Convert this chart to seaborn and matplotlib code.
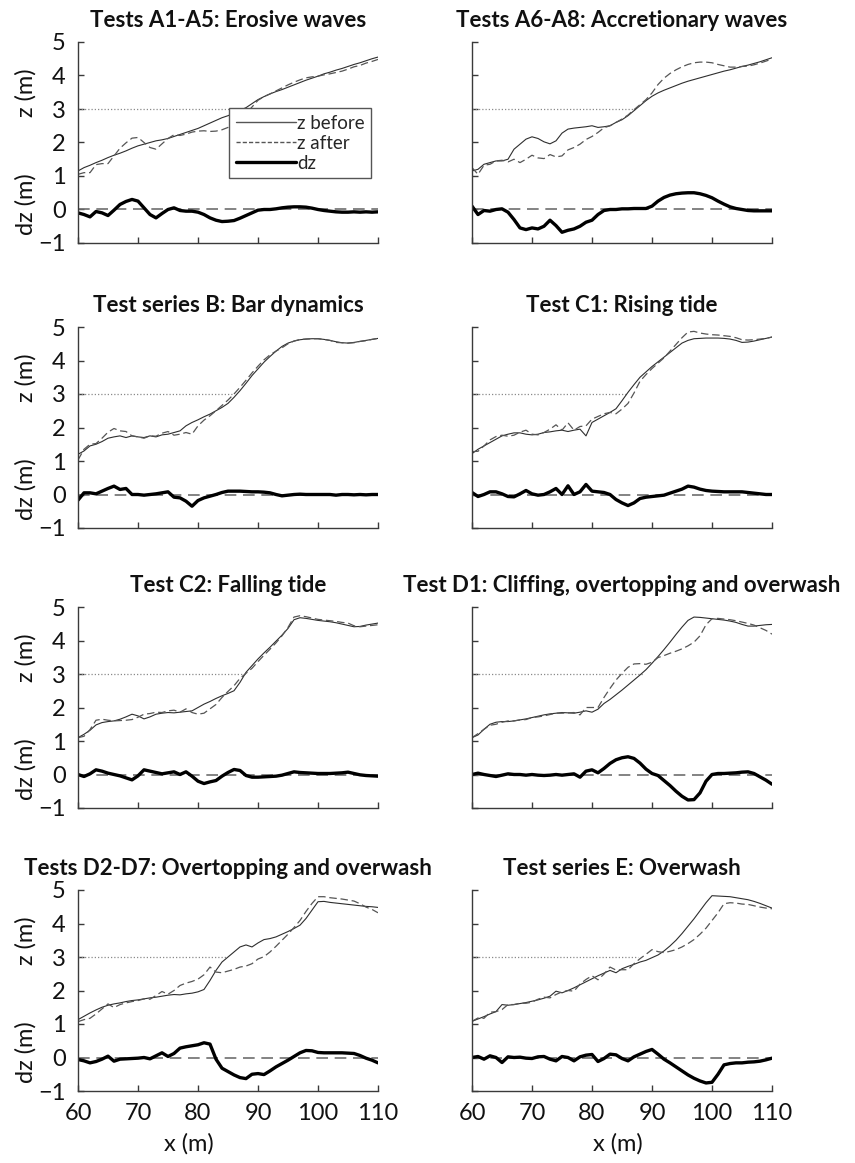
import numpy as np
import pandas as pd
import matplotlib
matplotlib.use("Agg")
import matplotlib.pyplot as plt
import matplotlib.transforms as mtransforms
from matplotlib.lines import Line2D
import seaborn as sns

# Cross-shore sample positions (m)
x_m = np.arange(60, 111)

titles = [
    "Tests A1-A5: Erosive waves",
    "Tests A6-A8: Accretionary waves",
    "Test series B: Bar dynamics",
    "Test C1: Rising tide",
    "Test C2: Falling tide",
    "Test D1: Cliffing, overtopping and overwash",
    "Tests D2-D7: Overtopping and overwash",
    "Test series E: Overwash",
]

# Bed elevation before each test (m)
zb_A1A5 = [1.15, 1.25, 1.32, 1.40, 1.47, 1.55, 1.62, 1.68, 1.75, 1.83, 1.90,
           1.95, 2.00, 2.05, 2.08, 2.12, 2.18, 2.24, 2.30, 2.36, 2.42,
           2.50, 2.58, 2.66, 2.74, 2.80, 2.88, 2.96, 3.04, 3.16, 3.28,
           3.37, 3.45, 3.52, 3.58, 3.65, 3.72, 3.79, 3.86, 3.92, 3.98,
           4.05, 4.10, 4.16, 4.21, 4.27, 4.33, 4.38, 4.44, 4.50, 4.55]
zb_A6A8 = [1.15, 1.20, 1.35, 1.40, 1.45, 1.45, 1.50, 1.80, 1.95, 2.10, 2.17,
           2.12, 2.02, 1.96, 2.05, 2.28, 2.40, 2.43, 2.45, 2.47, 2.50,
           2.45, 2.47, 2.50, 2.60, 2.68, 2.80, 2.95, 3.10, 3.25, 3.38,
           3.48, 3.56, 3.63, 3.70, 3.77, 3.83, 3.88, 3.93, 3.98, 4.03,
           4.08, 4.13, 4.17, 4.22, 4.27, 4.31, 4.36, 4.41, 4.47, 4.53]
zb_B = [1.20, 1.30, 1.45, 1.50, 1.58, 1.68, 1.72, 1.75, 1.70, 1.75, 1.72,
        1.70, 1.75, 1.72, 1.78, 1.80, 1.85, 1.90, 2.05, 2.15, 2.23,
        2.32, 2.40, 2.50, 2.60, 2.72, 2.90, 3.10, 3.32, 3.55, 3.75,
        3.95, 4.12, 4.28, 4.42, 4.52, 4.58, 4.62, 4.64, 4.65, 4.65,
        4.63, 4.60, 4.56, 4.53, 4.52, 4.54, 4.57, 4.60, 4.63, 4.66]
zb_C1 = [1.22, 1.35, 1.45, 1.55, 1.65, 1.75, 1.80, 1.84, 1.84, 1.80, 1.78,
         1.80, 1.85, 1.87, 1.90, 1.92, 1.88, 1.92, 1.95, 1.75, 2.15,
         2.25, 2.35, 2.45, 2.56, 2.80, 3.05, 3.28, 3.50, 3.66, 3.82,
         3.96, 4.10, 4.24, 4.38, 4.52, 4.60, 4.65, 4.66, 4.67, 4.67,
         4.67, 4.66, 4.64, 4.60, 4.54, 4.55, 4.58, 4.62, 4.66, 4.70]
zb_C2 = [1.10, 1.20, 1.32, 1.48, 1.55, 1.58, 1.60, 1.65, 1.72, 1.80, 1.75,
         1.66, 1.72, 1.80, 1.83, 1.85, 1.84, 1.86, 1.88, 1.90, 2.00,
         2.10, 2.18, 2.27, 2.35, 2.42, 2.50, 2.75, 3.05, 3.25, 3.45,
         3.63, 3.80, 3.98, 4.16, 4.36, 4.62, 4.68, 4.66, 4.63, 4.60,
         4.58, 4.56, 4.53, 4.49, 4.45, 4.41, 4.42, 4.46, 4.49, 4.52]
zb_D1 = [1.10, 1.18, 1.35, 1.50, 1.56, 1.58, 1.58, 1.60, 1.63, 1.66, 1.70,
         1.74, 1.78, 1.81, 1.83, 1.85, 1.84, 1.83, 1.86, 1.90, 1.86,
         1.95, 2.12, 2.24, 2.38, 2.52, 2.67, 2.82, 2.97, 3.13, 3.32,
         3.52, 3.73, 3.95, 4.18, 4.40, 4.60, 4.70, 4.69, 4.67, 4.65,
         4.63, 4.61, 4.58, 4.54, 4.48, 4.43, 4.43, 4.45, 4.47, 4.48]
zb_D2D7 = [1.13, 1.23, 1.33, 1.42, 1.50, 1.56, 1.60, 1.63, 1.67, 1.70, 1.72,
           1.75, 1.78, 1.80, 1.83, 1.86, 1.88, 1.87, 1.90, 1.92, 1.96,
           2.03, 2.30, 2.60, 2.85, 3.00, 3.15, 3.30, 3.36, 3.30, 3.42,
           3.52, 3.55, 3.60, 3.68, 3.76, 3.85, 3.95, 4.15, 4.40, 4.65,
           4.66, 4.63, 4.61, 4.59, 4.57, 4.55, 4.53, 4.51, 4.50, 4.48]
zb_E = [1.08, 1.15, 1.22, 1.30, 1.37, 1.58, 1.56, 1.58, 1.61, 1.64, 1.68,
        1.72, 1.77, 1.83, 1.98, 1.93, 2.00, 2.08, 2.17, 2.26, 2.35,
        2.44, 2.52, 2.60, 2.53, 2.65, 2.72, 2.78, 2.85, 2.90, 2.98,
        3.06, 3.18, 3.33, 3.50, 3.70, 3.92, 4.14, 4.38, 4.62, 4.83,
        4.82, 4.81, 4.80, 4.77, 4.74, 4.71, 4.66, 4.60, 4.53, 4.46]

# Bed level change after each test (m)
dz_A1A5 = [-0.10, -0.15, -0.22, -0.06, -0.10, -0.18, -0.02, 0.15, 0.24, 0.30, 0.25,
           0.05, -0.15, -0.25, -0.12, 0.00, 0.05, -0.03, -0.05, -0.05, -0.08,
           -0.15, -0.25, -0.32, -0.36, -0.35, -0.33, -0.26, -0.18, -0.10, -0.02,
           0.00, 0.00, 0.02, 0.05, 0.07, 0.08, 0.08, 0.07, 0.04, 0.00,
           -0.03, -0.05, -0.07, -0.08, -0.08, -0.07, -0.08, -0.07, -0.08, -0.07]
dz_A6A8 = [0.10, -0.15, -0.03, -0.05, 0.00, 0.02, -0.08, -0.30, -0.55, -0.60, -0.55,
           -0.58, -0.50, -0.32, -0.48, -0.68, -0.62, -0.58, -0.50, -0.38, -0.32,
           -0.15, -0.03, 0.00, 0.00, 0.02, 0.02, 0.03, 0.03, 0.03, 0.10,
           0.25, 0.36, 0.43, 0.47, 0.49, 0.50, 0.50, 0.47, 0.42, 0.35,
           0.25, 0.16, 0.08, 0.03, 0.00, -0.03, -0.04, -0.04, -0.04, -0.04]
dz_B = [-0.17, 0.05, 0.05, 0.02, 0.10, 0.18, 0.25, 0.15, 0.18, 0.00, 0.00,
        -0.02, 0.00, 0.02, 0.05, 0.08, -0.08, -0.10, -0.20, -0.35, -0.18,
        -0.10, -0.05, 0.00, 0.06, 0.10, 0.10, 0.10, 0.09, 0.08, 0.08,
        0.07, 0.05, 0.00, -0.04, -0.02, 0.00, 0.01, 0.00, 0.00, 0.00,
        0.00, 0.00, -0.02, 0.00, 0.00, -0.01, 0.00, -0.01, 0.00, 0.00]
dz_C1 = [0.06, -0.06, 0.00, 0.08, 0.08, 0.02, -0.06, -0.07, 0.02, 0.12, 0.02,
         -0.02, 0.00, 0.08, 0.18, 0.00, 0.26, 0.00, 0.08, 0.30, 0.10,
         0.08, 0.06, 0.00, -0.15, -0.25, -0.33, -0.25, -0.12, -0.08, -0.06,
         -0.04, -0.02, 0.04, 0.10, 0.16, 0.25, 0.22, 0.16, 0.12, 0.10,
         0.09, 0.08, 0.08, 0.08, 0.08, 0.06, 0.04, 0.02, 0.00, 0.00]
dz_C2 = [0.00, -0.06, 0.02, 0.14, 0.10, 0.04, 0.00, -0.04, -0.10, -0.16, -0.04,
         0.14, 0.10, 0.06, 0.02, 0.05, 0.08, 0.00, 0.08, -0.05, -0.20,
         -0.27, -0.22, -0.18, -0.05, 0.06, 0.15, 0.12, -0.03, -0.08, -0.08,
         -0.07, -0.06, -0.05, -0.02, 0.03, 0.08, 0.06, 0.05, 0.04, 0.03,
         0.03, 0.03, 0.04, 0.05, 0.07, 0.03, -0.01, -0.03, -0.04, -0.05]
dz_D1 = [0.00, 0.04, 0.00, -0.03, -0.06, -0.02, 0.02, 0.00, 0.00, -0.02, 0.00,
         -0.02, -0.03, -0.02, 0.00, -0.02, 0.00, 0.02, -0.08, 0.10, 0.14,
         0.05, 0.18, 0.33, 0.44, 0.50, 0.53, 0.48, 0.34, 0.16, 0.03,
         -0.03, -0.18, -0.33, -0.50, -0.65, -0.76, -0.75, -0.55, -0.20, 0.00,
         0.03, 0.03, 0.04, 0.05, 0.07, 0.08, 0.03, -0.07, -0.17, -0.29]
dz_D2D7 = [-0.06, -0.10, -0.16, -0.12, -0.05, 0.04, -0.11, -0.05, -0.04, -0.03, -0.02,
           0.00, -0.04, 0.05, 0.14, 0.03, 0.12, 0.28, 0.32, 0.35, 0.38,
           0.44, 0.40, -0.05, -0.32, -0.42, -0.52, -0.60, -0.63, -0.50, -0.48,
           -0.51, -0.40, -0.28, -0.18, -0.08, 0.03, 0.14, 0.21, 0.20, 0.15,
           0.14, 0.14, 0.14, 0.14, 0.13, 0.12, 0.06, -0.02, -0.08, -0.16]
dz_E = [0.00, 0.03, -0.05, 0.05, 0.00, -0.15, 0.02, 0.00, 0.01, -0.02, -0.03,
        0.02, 0.03, -0.05, -0.10, 0.03, 0.00, -0.10, 0.02, 0.07, 0.09,
        -0.12, -0.03, 0.10, 0.08, -0.03, -0.10, 0.02, 0.10, 0.18, 0.24,
        0.10, -0.05, -0.16, -0.28, -0.40, -0.52, -0.62, -0.70, -0.76, -0.74,
        -0.50, -0.22, -0.18, -0.16, -0.16, -0.14, -0.13, -0.11, -0.07, -0.02]

# Landward reach of the still water level (z = 3 m) in each test (m)
swl_reach = [88.3, 87.2, 85.8, 86.0, 88.0, 88.6, 84.9, 87.7]
swl_level = 3.0

z_before = [zb_A1A5, zb_A6A8, zb_B, zb_C1, zb_C2, zb_D1, zb_D2D7, zb_E]
dz_all = [dz_A1A5, dz_A6A8, dz_B, dz_C1, dz_C2, dz_D1, dz_D2D7, dz_E]

sns.set_theme(style="ticks")
plt.rcParams["font.family"] = ["Lato", "DejaVu Sans"]
plt.rcParams["axes.linewidth"] = 1.0

W, H = 855, 1163
fig = plt.figure(figsize=(W / 100, H / 100), dpi=100)

col_left = [78, 472]
col_width = 300
row_top = [42, 327, 607, 890]
row_height = 201

ink = "#3a3a3a"
tick_fs = 17

for i in range(8):
    r, c = divmod(i, 2)
    rect = [col_left[c] / W, 1 - (row_top[r] + row_height) / H,
            col_width / W, row_height / H]
    ax = fig.add_axes(rect)

    df = pd.DataFrame({"x": x_m,
                       "before": z_before[i],
                       "dz": dz_all[i]})
    df["after"] = df["before"] + df["dz"]

    # zero reference for the change curve
    zero = pd.DataFrame({"x": [60, 110], "y": [0.0, 0.0]})
    sns.lineplot(data=zero, x="x", y="y", ax=ax, color="#6e6e6e", lw=1.2,
                 linestyle=(0, (7, 4)))
    # still water level
    swl = pd.DataFrame({"x": [60, swl_reach[i]], "y": [swl_level, swl_level]})
    sns.lineplot(data=swl, x="x", y="y", ax=ax, color="#8a8a8a", lw=0.9,
                 linestyle=(0, (1, 1.6)))

    sns.lineplot(data=df, x="x", y="before", ax=ax, color="#2e2e2e", lw=0.8,
                 estimator=None, sort=False)
    sns.lineplot(data=df, x="x", y="after", ax=ax, color="#555555", lw=0.9,
                 estimator=None, sort=False, linestyle=(0, (6, 3)))
    sns.lineplot(data=df, x="x", y="dz", ax=ax, color="black", lw=2.4,
                 estimator=None, sort=False)

    ax.set_xlim(60, 110)
    ax.set_ylim(-1, 5)
    ax.set_xticks(np.arange(60, 111, 10))
    ax.set_yticks(np.arange(-1, 6, 1))
    ax.tick_params(direction="in", length=4, width=1, color=ink,
                   labelsize=tick_fs, pad=9, labelcolor="#111111")
    for s in ("left", "bottom"):
        ax.spines[s].set_color(ink)
    sns.despine(ax=ax)

    ax.set_xlabel("")
    ax.set_ylabel("")
    if r < 3:
        ax.tick_params(axis="x", labelbottom=False)
    else:
        ax.set_xlabel("x (m)", fontsize=tick_fs, color="#111111")
        ax.xaxis.set_label_coords(0.37 if c == 0 else 0.487, -0.21)
    if c == 1:
        ax.tick_params(axis="y", labelleft=False)
    else:
        trans = mtransforms.blended_transform_factory(ax.transAxes, ax.transData)
        ax.text(-0.175, 3.5, "z (m)", transform=trans, rotation=90,
                ha="center", va="center", fontsize=tick_fs, color="#111111")
        ax.text(-0.175, 0.17, "dz (m)", transform=trans, rotation=90,
                ha="center", va="center", fontsize=tick_fs, color="#111111")

    ax.set_title(titles[i], fontsize=16, fontweight="bold", pad=11,
                 color="#111111")

    if i == 0:
        handles = [Line2D([], [], color="#555555", lw=1.0),
                   Line2D([], [], color="#555555", lw=1.0, linestyle=(0, (3, 1.5))),
                   Line2D([], [], color="black", lw=2.4)]
        leg = ax.legend(handles, ["z before", "z after", "dz"],
                        loc="upper right", bbox_to_anchor=(0.977, 0.67),
                        fontsize=13.5, frameon=True, fancybox=False,
                        edgecolor="#555555", framealpha=1, handlelength=3.2,
                        handletextpad=0.05, borderpad=0.35, labelspacing=0.15,
                        borderaxespad=0)
        leg.get_frame().set_linewidth(1.0)

fig.savefig("out.png", dpi=100)
